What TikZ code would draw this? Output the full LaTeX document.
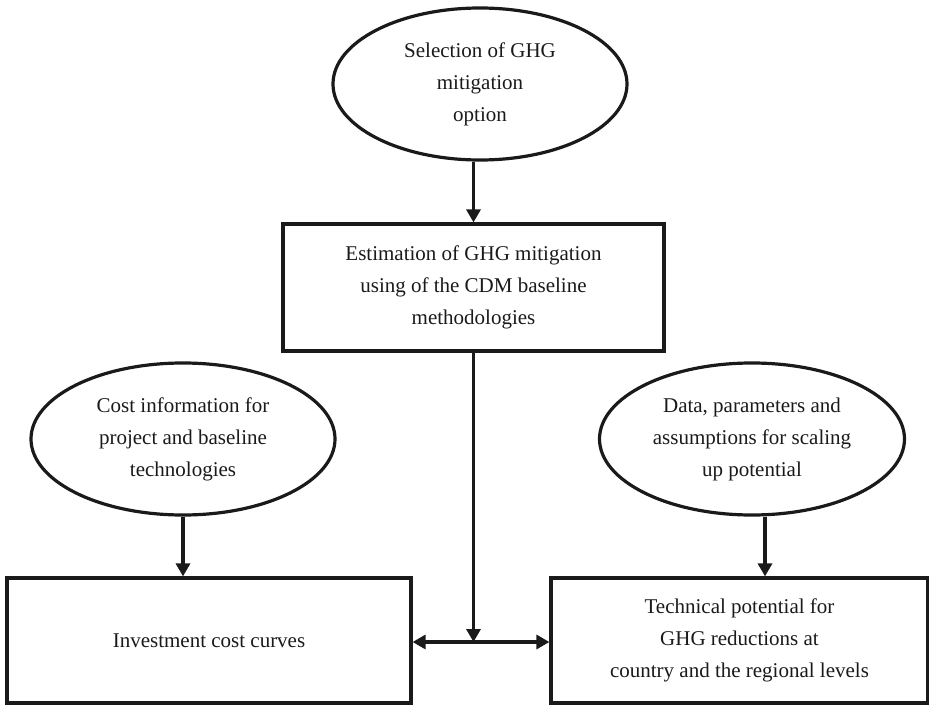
\documentclass[tikz,border=0pt]{standalone}
\usepackage{fontspec}
\setmainfont{Liberation Serif}
\usetikzlibrary{shapes.geometric,arrows.meta}
\definecolor{ink}{HTML}{1A1A1A}
\tikzset{
  oval/.style={ellipse,draw=ink,line width=3.2pt,inner sep=0pt,align=center,text=ink,
    font=\fontsize{21}{32}\selectfont},
  boxnode/.style={rectangle,draw=ink,line width=3.2pt,inner sep=0pt,align=center,text=ink,
    font=\fontsize{21}{32}\selectfont},
  arr/.style={draw=ink,line width=3.2pt,-{Triangle[length=13pt,width=14pt]}},
  darr/.style={draw=ink,line width=3.2pt,{Triangle[length=13pt,width=14pt]}-{Triangle[length=13pt,width=14pt]}}
}
\begin{document}
\begin{tikzpicture}[x=1pt,y=-1pt]
\useasboundingbox (0,0) rectangle (929,706);
\node[oval,minimum width=294pt,minimum height=152pt] (top) at (480,84)
  {Selection of GHG\\mitigation\\option};
\node[boxnode,minimum width=381pt,minimum height=127pt] (mid) at (473.5,287.5)
  {Estimation of GHG mitigation\\using of the CDM baseline\\methodologies};
\node[oval,minimum width=304pt,minimum height=152pt] (lell) at (183,439)
  {Cost information for\\project and baseline\\technologies};
\node[oval,minimum width=305pt,minimum height=152pt] (rell) at (752,439)
  {Data, parameters and\\assumptions for scaling\\up potential};
\node[boxnode,minimum width=404pt,minimum height=125pt] (lrect) at (209,640.5)
  {Investment cost curves};
\node[boxnode,minimum width=377pt,minimum height=125pt] (rrect) at (739.5,640.5)
  {Technical potential for\\GHG reductions at\\country and the regional levels};
\coordinate (j) at (473.5,642);
\draw[arr] (mid.north |- top.south) -- (mid.north);
\draw[arr] (lell.south) -- (lell.south |- lrect.north);
\draw[arr] ([xshift=13pt]rell.south) -- ([xshift=13pt]rell.south |- rrect.north);
\draw[arr] (mid.south) -- (j);
\draw[darr] (j -| lrect.east) -- (j -| rrect.west);
\end{tikzpicture}
\end{document}
